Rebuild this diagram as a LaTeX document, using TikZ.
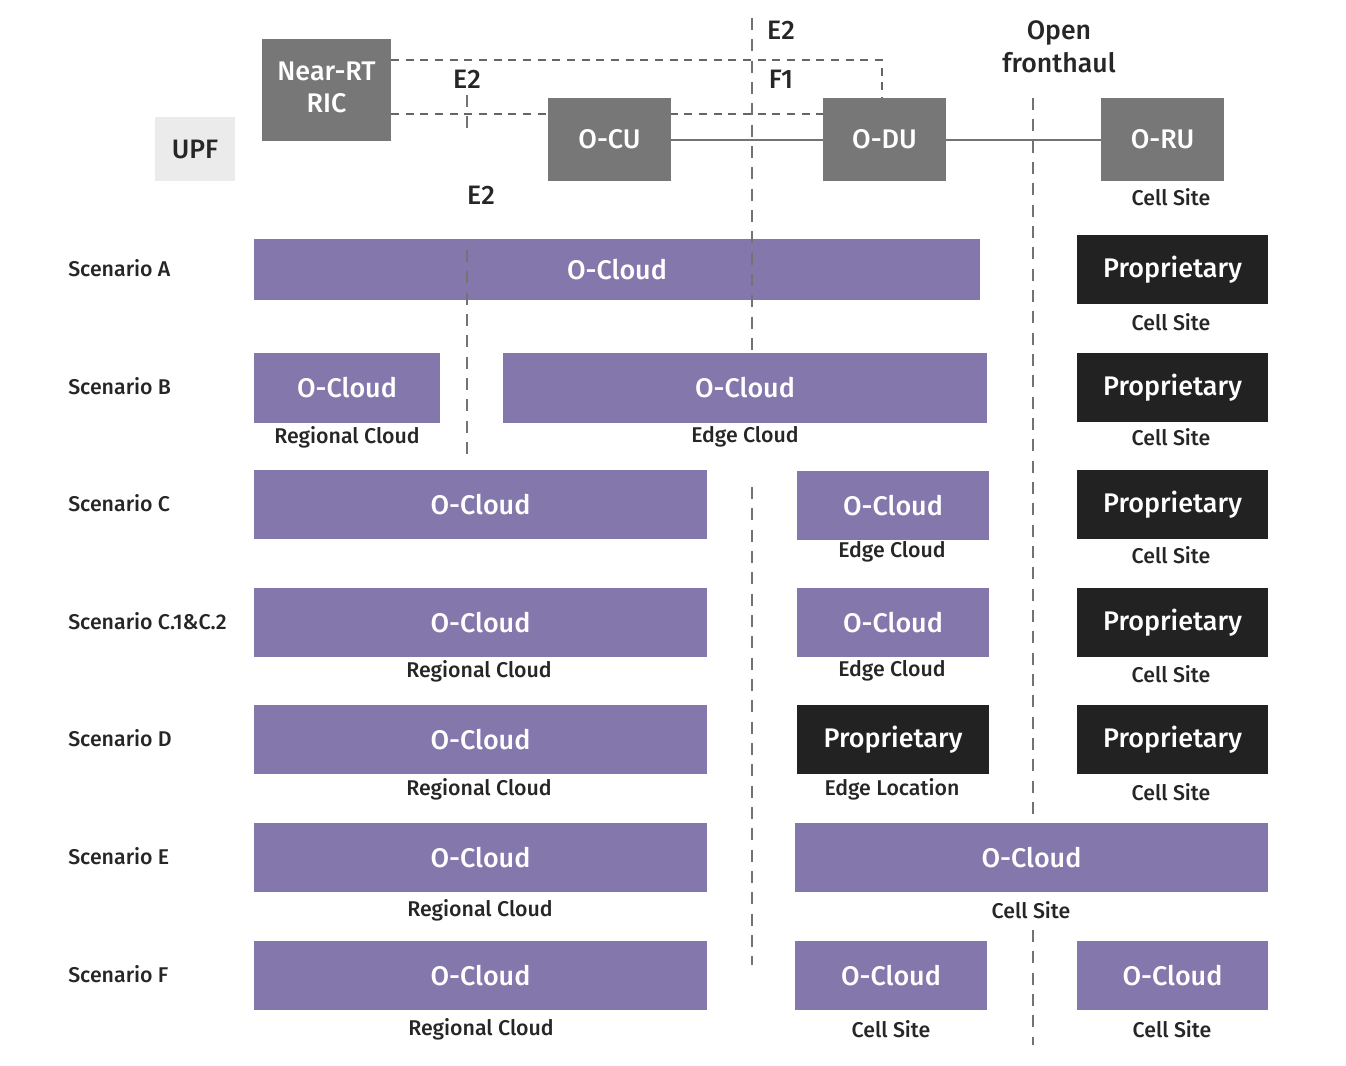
\documentclass[tikz,border=0pt]{standalone}
\usepackage{fontspec}
\setmainfont{Fira Sans}[BoldFont=Fira Sans Medium]
\begin{document}
\begin{tikzpicture}[x=0.75pt,y=-0.75pt,
  box/.style={draw=none,inner sep=0pt,text=white,font=\fontsize{20.2}{23}\selectfont\bfseries},
  lab/.style={font=\fontsize{16}{18}\selectfont\bfseries,text=black!85,inner sep=0pt},
  big/.style={font=\fontsize{20}{23}\selectfont\bfseries,text=black!85,inner sep=0pt,align=center},
  dsh/.style={draw=black!60,line width=1pt,dash pattern=on 6pt off 5pt},
  dshl/.style={draw=black!55,line width=2.2pt,dash pattern=on 9pt off 7pt}]
\definecolor{purp}{HTML}{8377AB}
\definecolor{blk}{HTML}{222222}
\definecolor{gry}{HTML}{777777}
\useasboundingbox (0,0) rectangle (1346,1065);
\newcommand{\bx}[6]{\path[#1] (#2,#3) rectangle (#4,#5) node[midway,box] {#6};}
% top
\path[fill=black!8] (155,117) rectangle (235,181) node[midway,big] {UPF};
\draw[dsh] (391,60) -- (882,60) -- (882,98);
\draw[dsh] (391,114) -- (823,114);
\draw[draw=black!55,line width=1.5pt] (671,140) -- (1101,140);
\bx{fill=gry}{262}{39}{391}{141}{\begin{tabular}{@{}c@{}}Near-RT\\[1pt]RIC\end{tabular}}
\bx{fill=gry}{548}{98}{671}{181}{O-CU}
\bx{fill=gry}{823}{98}{946}{181}{O-DU}
\bx{fill=gry}{1101}{98}{1224}{181}{O-RU}
\node[big] at (467,79) {E2};
\node[big] at (481,195) {E2};
\node[big] at (781,30) {E2};
\node[big] at (781,79) {F1};
\node[big] at (1059,47) {Open\\[2pt]fronthaul};
\node[lab] at (1171,197) {Cell Site};
% scenario labels
\foreach \y/\t in {268/Scenario A,386/Scenario B,503/Scenario C,621/Scenario C.1\&C.2,738/Scenario D,856/Scenario E,974/Scenario F}
  \node[lab,anchor=west] at (68,\y) {\t};
% A
\bx{fill=purp}{254}{239}{980}{300}{O-Cloud}
\bx{fill=blk}{1077}{235}{1268}{304}{Proprietary}
\node[lab] at (1171,322) {Cell Site};
% B
\bx{fill=purp}{254}{353}{440}{423}{O-Cloud}
\node[lab] at (347,437) {Regional Cloud};
\bx{fill=purp}{503}{353}{987}{423}{O-Cloud}
\node[lab] at (745,437) {Edge Cloud};
\bx{fill=blk}{1077}{353}{1268}{422}{Proprietary}
\node[lab] at (1171,437) {Cell Site};
% C
\bx{fill=purp}{254}{470}{707}{539}{O-Cloud}
\bx{fill=purp}{797}{471}{989}{540}{O-Cloud}
\node[lab] at (892,552) {Edge Cloud};
\bx{fill=blk}{1077}{470}{1268}{539}{Proprietary}
\node[lab] at (1171,555) {Cell Site};
% C1
\bx{fill=purp}{254}{588}{707}{657}{O-Cloud}
\node[lab] at (479,671) {Regional Cloud};
\bx{fill=purp}{797}{588}{989}{657}{O-Cloud}
\node[lab] at (892,671) {Edge Cloud};
\bx{fill=blk}{1077}{588}{1268}{657}{Proprietary}
\node[lab] at (1171,674) {Cell Site};
% D
\bx{fill=purp}{254}{705}{707}{774}{O-Cloud}
\node[lab] at (479,789) {Regional Cloud};
\bx{fill=blk}{797}{705}{989}{774}{Proprietary}
\node[lab] at (892,789) {Edge Location};
\bx{fill=blk}{1077}{705}{1268}{774}{Proprietary}
\node[lab] at (1171,792) {Cell Site};
% E
\bx{fill=purp}{254}{823}{707}{892}{O-Cloud}
\node[lab] at (480,910) {Regional Cloud};
\bx{fill=purp}{795}{823}{1268}{892}{O-Cloud}
\node[lab] at (1031,910) {Cell Site};
% F
\bx{fill=purp}{254}{941}{707}{1010}{O-Cloud}
\node[lab] at (481,1029) {Regional Cloud};
\bx{fill=purp}{795}{941}{987}{1010}{O-Cloud}
\node[lab] at (891,1029) {Cell Site};
\bx{fill=purp}{1077}{941}{1268}{1010}{O-Cloud}
\node[lab] at (1172,1029) {Cell Site};
% vertical dashes
\draw[dshl] (467,95) -- (467,135);
\draw[dshl] (467,250) -- (467,458);
\draw[dshl] (752,18) -- (752,350);
\draw[dshl] (752,487) -- (752,965);
\draw[dshl] (1033,98) -- (1033,818);
\draw[dshl] (1033,930) -- (1033,1045);
\end{tikzpicture}
\end{document}
